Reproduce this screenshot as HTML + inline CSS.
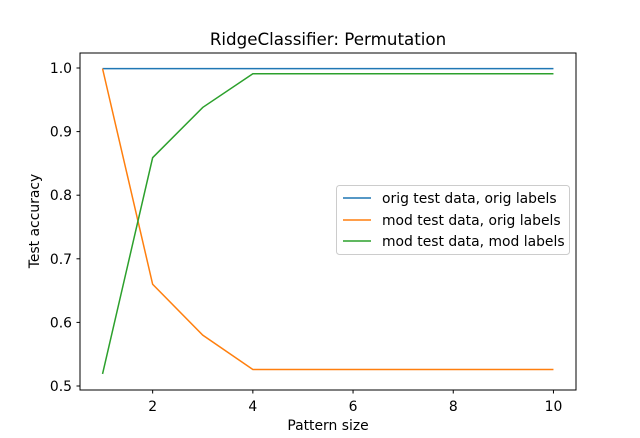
<!DOCTYPE html>
<html><head><meta charset="utf-8"><style>body{margin:0;background:#fff}svg{display:block;font-family:"DejaVu Sans","Liberation Sans",sans-serif}</style></head>
<body>
<svg id="c" width="640" height="438">
<rect x="0" y="0" width="640" height="438" fill="#fff"/>
<text x="328" y="45" text-anchor="middle" font-size="16.7">RidgeClassifier: Permutation</text>
<text x="328" y="430" text-anchor="middle" font-size="13.9">Pattern size</text>
<text transform="translate(39,221) rotate(-90)" text-anchor="middle" font-size="13.9">Test accuracy</text>
<g id="ticks"></g>
<g id="series"></g>
<rect x="80" y="53" width="496" height="337" fill="none" stroke="#000" stroke-width="1"/>
<g>
<rect x="336.5" y="185.5" width="233" height="69" rx="3" fill="#fff" fill-opacity="0.8" stroke="#ccc"/>
<line x1="343" y1="198" x2="371" y2="198" stroke="#1f77b4" stroke-width="1.5"/>
<text x="382" y="203" font-size="13.9">orig test data, orig labels</text>
<line x1="343" y1="220" x2="371" y2="220" stroke="#ff7f0e" stroke-width="1.5"/>
<text x="382" y="225" font-size="13.9">mod test data, orig labels</text>
<line x1="343" y1="241" x2="371" y2="241" stroke="#2ca02c" stroke-width="1.5"/>
<text x="382" y="246" font-size="13.9">mod test data, mod labels</text>
</g>
</svg>
<script>
const xs=[1,2,3,4,5,6,7,8,9,10];
const origOrig=[0.999,0.999,0.999,0.999,0.999,0.999,0.999,0.999,0.999,0.999];
const modOrig=[0.999,0.66,0.58,0.526,0.526,0.526,0.526,0.526,0.526,0.526];
const modMod=[0.519,0.859,0.938,0.991,0.991,0.991,0.991,0.991,0.991,0.991];
const xTicks=[2,4,6,8,10];
const yTicks=[0.5,0.6,0.7,0.8,0.9,1.0];
const X=v=>80+(v-0.55)/(9.9)*496;
const Y=v=>386-(v-0.5)*636;
const NS="http://www.w3.org/2000/svg";
const tg=document.getElementById('ticks'),sg=document.getElementById('series');
xTicks.forEach(t=>{
 const l=document.createElementNS(NS,'line');l.setAttribute('x1',X(t));l.setAttribute('x2',X(t));l.setAttribute('y1',390);l.setAttribute('y2',393.5);l.setAttribute('stroke','#000');
 
 
 tg.appendChild(l);
 const s=document.createElementNS(NS,'text');s.setAttribute('x',X(t));s.setAttribute('y',411);s.setAttribute('text-anchor','middle');s.setAttribute('font-size','13.9');s.textContent=t;
 
 
 tg.appendChild(s);
});
yTicks.forEach(t=>{
 const l=document.createElementNS(NS,'line');l.setAttribute('x1',76.5);l.setAttribute('x2',80);l.setAttribute('y1',Y(t));l.setAttribute('y2',Y(t));l.setAttribute('stroke','#000');
 
 
 tg.appendChild(l);
 const s=document.createElementNS(NS,'text');s.setAttribute('x',72);s.setAttribute('y',Y(t)+5);s.setAttribute('text-anchor','end');s.setAttribute('font-size','13.9');s.textContent=t.toFixed(1);
 
 
 tg.appendChild(s);
});
[[origOrig,'#1f77b4','line-orig-orig'],[modOrig,'#ff7f0e','line-mod-orig'],[modMod,'#2ca02c','line-mod-mod']].forEach(([d,c,n])=>{
 const p=document.createElementNS(NS,'polyline');
 p.setAttribute('points',d.map((v,i)=>X(xs[i])+','+Y(v)).join(' '));
 p.setAttribute('fill','none');p.setAttribute('stroke',c);p.setAttribute('stroke-width','1.5');
 
 
 sg.appendChild(p);
});
</script>
</body></html>
